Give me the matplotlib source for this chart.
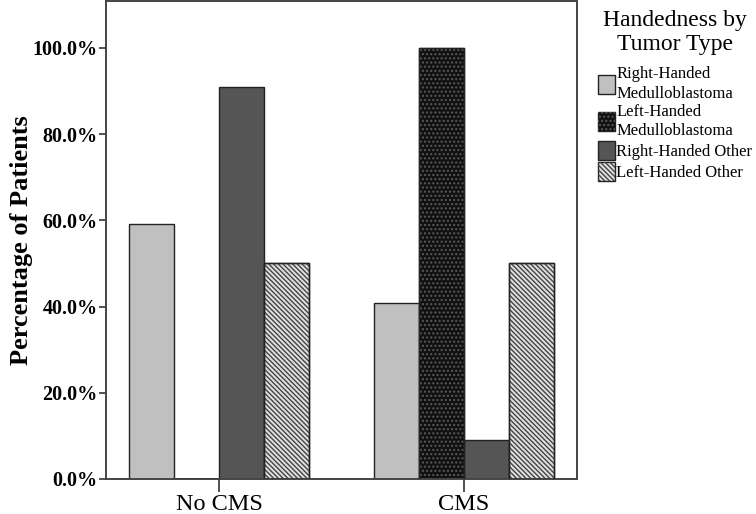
import matplotlib
matplotlib.use("Agg")
import matplotlib.pyplot as plt
from matplotlib.legend_handler import HandlerTuple
from matplotlib.ticker import FuncFormatter
import numpy as np

plt.rcParams['font.family'] = ['Liberation Serif', 'DejaVu Serif']
plt.rcParams['hatch.linewidth'] = 1.0

categories = ["No CMS", "CMS"]
series_names = ["Right-Handed\nMedulloblastoma", "Left-Handed\nMedulloblastoma",
                "Right-Handed Other", "Left-Handed Other"]
rh_med = [59.1, 40.9]
lh_med = [0.0, 100.0]
rh_other = [90.9, 9.1]
lh_other = [50.0, 50.0]
series_values = [rh_med, lh_med, rh_other, lh_other]
yticks = [0, 20, 40, 60, 80, 100]

face = ['#c0c0c0', '#111111', '#555555', '#e0e0e0']
hatches = [None, '....', None, '\\' * 7]
hatch_col = [None, '#5a5a5a', None, '#444444']

fig = plt.figure(figsize=(7.56, 5.14), dpi=100)
ax = fig.add_axes([106/756, 35/514, (577-106)/756, (513-35)/514])

x = np.arange(len(categories))
w = 0.1837
offsets = [-1.5, -0.5, 0.5, 1.5]
handles = []
for i, vals in enumerate(series_values):
    b = ax.bar(x + offsets[i]*w, vals, w, color=face[i], edgecolor='#222222', linewidth=1.0, zorder=2)
    if hatches[i]:
        h = ax.bar(x + offsets[i]*w, vals, w, color='none', edgecolor=hatch_col[i],
                   hatch=hatches[i], linewidth=0, zorder=3)
        ax.bar(x + offsets[i]*w, vals, w, color='none', edgecolor='#222222', linewidth=1.0, zorder=4)
        handles.append((b[0], h[0]))
    else:
        handles.append(b[0])

ax.set_xlim(-0.461, 1.461)
ax.set_ylim(0, 110.9)
ax.set_yticks(yticks)
ax.yaxis.set_major_formatter(FuncFormatter(lambda v, p: f"{v:.1f}%"))
ax.set_xticks(x)
ax.set_xticklabels(categories, fontsize=17.5)
for lab in ax.get_yticklabels():
    lab.set_fontweight('bold')
    lab.set_fontsize(14.5)
ax.tick_params(axis='y', direction='out', length=5, width=1.2, color='#333333', pad=1)
ax.tick_params(axis='x', direction='out', length=9, width=1.2, color='#333333', pad=2)
for s in ax.spines.values():
    s.set_color('#444444')
    s.set_linewidth(1.4)
ax.set_ylabel("Percentage of Patients", fontsize=19, fontweight='bold', labelpad=0)

leg = fig.legend(handles, series_names, loc='upper left', bbox_to_anchor=(588/756, 1.0),
                 title="Handedness by\nTumor Type", title_fontsize=17, fontsize=12,
                 frameon=False, handler_map={tuple: HandlerTuple(ndivide=1, pad=0)},
                 handlelength=1.0, handleheight=1.4, handletextpad=0.1, labelspacing=0.1,
                 borderaxespad=0.2)
leg.get_title().set_multialignment('center')
leg.get_title().set_linespacing(1.2)
for t in leg.get_texts():
    t.set_linespacing(1.3)
leg._legend_box.sep = 8

fig.savefig("out.png", dpi=100)
